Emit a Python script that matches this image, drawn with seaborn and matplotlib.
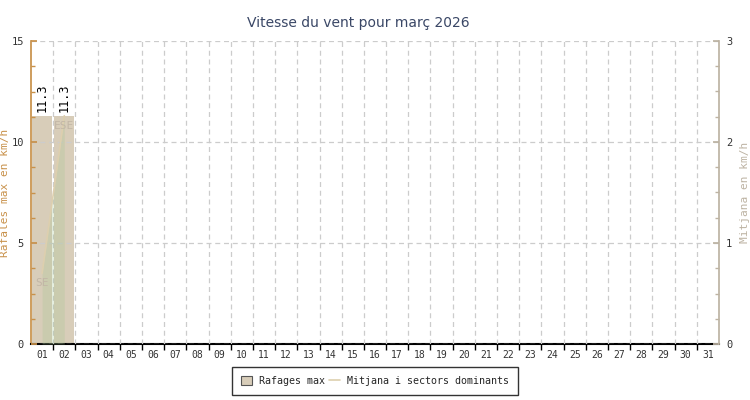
import numpy as np
import pandas as pd
import seaborn as sns
import matplotlib
matplotlib.use('Agg')
import matplotlib.pyplot as plt
from matplotlib.ticker import MultipleLocator, FixedLocator
from matplotlib.patches import Patch
from matplotlib.lines import Line2D

# dades del mes
dies = [f"{d:02d}" for d in range(1, 32)]
rafagues = [11.3, 11.3] + [np.nan] * 29
mitjana_dies = ["01", "02"]
mitjana = [0.7, 2.26]
sectors = ["SE", "ESE"]

titol = "Vitesse du vent pour març 2026"
color_barra = "#d8cdb9"
color_linia = "#ddcfae"
color_esq = "#c8914a"
color_dreta = "#bdb3a3"
color_text = "#333333"

sns.set_theme(style="white")
plt.rcParams['font.family'] = ['DejaVu Sans Mono', 'DejaVu Sans']

fig = plt.figure(figsize=(7.5, 4), dpi=100)
ax = fig.add_axes([31 / 750, 56 / 400, 688 / 750, 303 / 400])

df = pd.DataFrame({"dia": dies, "rafagues": rafagues})
sns.barplot(data=df, x="dia", y="rafagues", color=color_barra, saturation=1,
            width=0.9, ax=ax, zorder=2, edgecolor="none")

# etiquetes de les barres
for i, v in enumerate(rafagues):
    if not np.isnan(v):
        ax.text(i, v + 0.2, f"{v}", rotation=90, ha="center", va="bottom",
                fontsize=8.5, color="black", zorder=5)

ax.set_xlim(-0.5, 30.5)
ax.set_ylim(0, 15)
ax.set_xlabel("")
ax.set_ylabel("Rafales max en km/h", color=color_esq, fontsize=8)
ax.yaxis.set_label_coords(-0.031, 0.5)
ax.yaxis.set_major_locator(MultipleLocator(5))
ax.yaxis.set_minor_locator(MultipleLocator(1.25))
ax.xaxis.set_minor_locator(FixedLocator(np.arange(0.5, 30, 1)))
ax.tick_params(axis="x", which="major", length=0, labelsize=7, pad=4, labelcolor=color_text)
ax.tick_params(axis="x", which="minor", length=4, width=1, color="black", direction="out", bottom=True)
ax.tick_params(axis="y", which="both", direction="in", color=color_esq, left=True,
               labelsize=7.5, labelcolor=color_text, pad=5)
ax.tick_params(axis="y", which="major", length=4)
ax.tick_params(axis="y", which="minor", length=3)
ax.grid(False)
ax.xaxis.grid(True, which="minor", linestyle=(0, (4, 3)), color="#cccccc", linewidth=0.9)
ax.yaxis.grid(True, which="major", linestyle=(0, (4, 3)), color="#cccccc", linewidth=0.9)
ax.set_axisbelow(False)
ax.spines["top"].set_visible(False)
ax.spines["right"].set_visible(False)
ax.spines["left"].set_color(color_esq)
ax.spines["bottom"].set_color("black")
ax.spines["bottom"].set_linewidth(1.5)

# eix dret: mitjana
ax2 = ax.twinx()
xm = [dies.index(d) for d in mitjana_dies]
ax2.fill_between(xm, mitjana, 0, color="#aac896", alpha=0.3, zorder=3, linewidth=0)
ax2.plot(xm, mitjana, color=color_linia, linewidth=1.2, zorder=4)
for x, y, s in zip(xm, mitjana, sectors):
    ax2.text(x, y - 0.05, s, ha="center", va="top", fontsize=8, color="#c2b6a6", zorder=5)
ax2.set_ylim(0, 3)
ax2.set_ylabel("Mitjana en km/h", color=color_dreta, fontsize=8)
ax2.yaxis.set_label_coords(1.031, 0.5)
ax2.yaxis.set_major_locator(MultipleLocator(1))
ax2.yaxis.set_minor_locator(MultipleLocator(0.25))
ax2.tick_params(axis="y", which="both", direction="in", color=color_dreta, right=True,
                labelsize=7.5, labelcolor=color_text, pad=5)
ax2.tick_params(axis="y", which="major", length=4)
ax2.tick_params(axis="y", which="minor", length=3)
ax2.grid(False)
for s in ["top", "left", "bottom"]:
    ax2.spines[s].set_visible(False)
ax2.spines["right"].set_color(color_dreta)

fig.text(358 / 750, 1 - 23 / 400, titol, ha="center", va="center", fontsize=10,
         color="#3a4766", family="DejaVu Sans")

handles = [Patch(facecolor=color_barra, edgecolor="#555555", linewidth=0.8),
           Line2D([0], [0], color=color_linia, linewidth=1.2)]
leg = fig.legend(handles, ["Rafages max", "Mitjana i sectors dominants"],
                 loc="center", bbox_to_anchor=(375 / 750, 1 - 381 / 400), ncol=2,
                 fontsize=7.2, frameon=True, fancybox=False, edgecolor="black",
                 handlelength=1.1, handleheight=1.0, columnspacing=0.4,
                 handletextpad=0.7, borderpad=0.9)
leg.get_frame().set_linewidth(1)

fig.savefig("out.png", dpi=100)
